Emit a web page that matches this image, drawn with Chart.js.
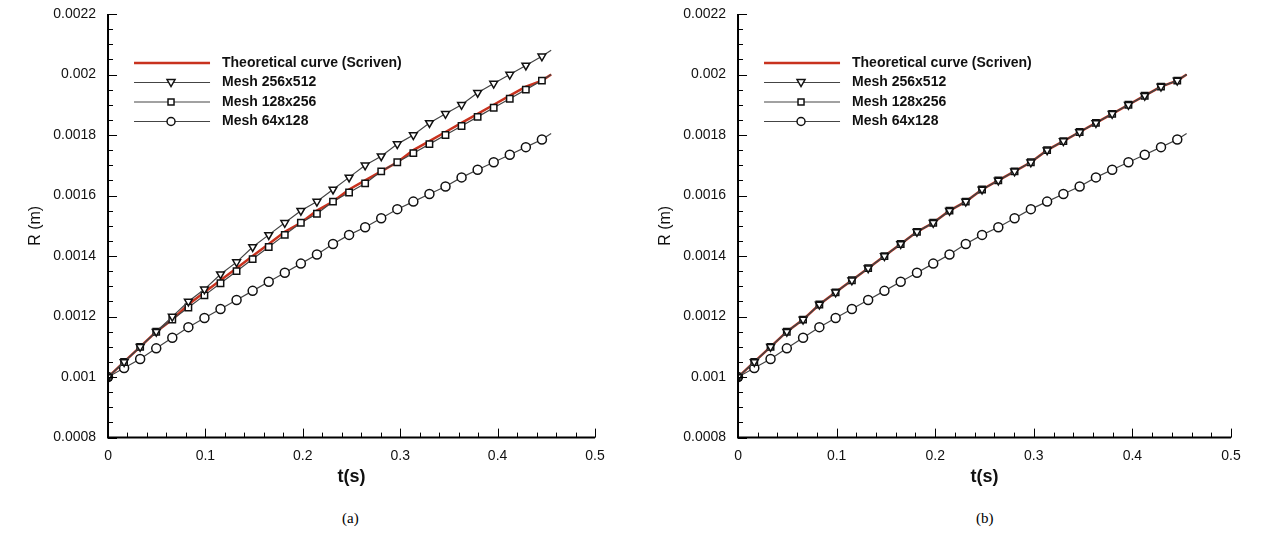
<!DOCTYPE html>
<html><head><meta charset="utf-8">
<script src="https://cdn.jsdelivr.net/npm/chart.js@4.4.0/dist/chart.umd.min.js"></script>
<style>
body{margin:0;background:#fff;width:1270px;height:539px;position:relative;overflow:hidden;font-family:"Liberation Sans",Arial,sans-serif}
.c{position:absolute;top:0}
.cap{position:absolute;top:510px;font-family:"Liberation Serif",serif;font-size:15px}
</style></head><body>
<div class="c" style="left:0;width:620px;height:488px"><canvas id="ca"></canvas></div>
<div class="c" style="left:630px;width:630px;height:488px"><canvas id="cb"></canvas></div>
<div class="cap" style="left:342px">(a)</div>
<div class="cap" style="left:976px">(b)</div>
<script>
// marker times (s)
const tMarks = [0, 0.0165, 0.033, 0.0495, 0.066, 0.0825, 0.099, 0.1155, 0.132, 0.1485, 0.165, 0.1815, 0.198, 0.2145,
  0.231, 0.2475, 0.264, 0.2805, 0.297, 0.3135, 0.33, 0.3465, 0.363, 0.3795, 0.396, 0.4125, 0.429, 0.4455];
const tEnd = 0.455;
// Scriven theoretical R(t) (m)
const theory = [0.001, 0.00105, 0.0011, 0.00115, 0.00119, 0.00124, 0.00128, 0.00132, 0.00136, 0.0014, 0.00144, 0.00148,
  0.00151, 0.00155, 0.00158, 0.00162, 0.00165, 0.00168, 0.00171, 0.00175, 0.00178, 0.00181, 0.00184, 0.00187, 0.0019,
  0.00193, 0.00196, 0.00198];
const theoryEnd = 0.002;
// (a)
const a256 = [0.001, 0.00105, 0.0011, 0.00115, 0.0012, 0.00125, 0.00129, 0.00134, 0.00138, 0.00143, 0.00147, 0.00151,
  0.00155, 0.00158, 0.00162, 0.00166, 0.0017, 0.00173, 0.00177, 0.0018, 0.00184, 0.00187, 0.0019, 0.00194, 0.00197,
  0.002, 0.00203, 0.00206];
const a256End = 0.00208;
const a128 = [0.001, 0.00105, 0.0011, 0.00115, 0.00119, 0.00123, 0.00127, 0.00131, 0.00135, 0.00139, 0.00143, 0.00147,
  0.00151, 0.00154, 0.00158, 0.00161, 0.00164, 0.00168, 0.00171, 0.00174, 0.00177, 0.0018, 0.00183, 0.00186, 0.00189,
  0.00192, 0.00195, 0.00198];
const a128End = 0.002;
const m64 = [0.001, 0.00103, 0.00106, 0.001095, 0.00113, 0.001165, 0.001195, 0.001225, 0.001255, 0.001285, 0.001315,
  0.001345, 0.001375, 0.001405, 0.00144, 0.00147, 0.001495, 0.001525, 0.001555, 0.00158, 0.001605, 0.00163, 0.00166,
  0.001685, 0.00171, 0.001735, 0.00176, 0.001785];
const m64End = 0.001805;
// (b)
const b256 = theory, b128 = theory;
const xTicks = [0, 0.1, 0.2, 0.3, 0.4, 0.5];
const yTicks = [0.0008, 0.001, 0.0012, 0.0014, 0.0016, 0.0018, 0.002, 0.0022];
const legendLabels = ['Theoretical curve (Scriven)', 'Mesh 256x512', 'Mesh 128x256', 'Mesh 64x128'];

const pts = (ys, end) => tMarks.map((t, i) => ({x: t, y: ys[i]})).concat([{x: tEnd, y: end}]);
const GREY = '#444', RED = '#c8321e';

function meshSet(label, ys, end, style, rot) {
  return {label, data: pts(ys, end), borderColor: GREY, borderWidth: 1.2, backgroundColor: '#fff',
    pointStyle: style, rotation: rot || 0,
    pointRadius: ctx => ctx.dataIndex === tMarks.length ? 0 : 4.5,
    pointBorderColor: '#111', pointBorderWidth: 1.5};
}

const decor = {
  id: 'decor',
  afterDraw(c) {
    const g = c.ctx, x = c.scales.x, y = c.scales.y, a = c.chartArea;
    g.save();
    g.strokeStyle = '#000'; g.lineWidth = 2;
    g.beginPath(); g.moveTo(a.left, a.top); g.lineTo(a.left, a.bottom); g.lineTo(a.right, a.bottom); g.stroke();
    g.lineWidth = 1;
    for (let v = 0; v <= 0.5001; v += 0.02) {
      const px = Math.round(x.getPixelForValue(v)) + 0.5, major = Math.abs(v * 10 - Math.round(v * 10)) < 1e-6;
      g.beginPath(); g.moveTo(px, a.bottom); g.lineTo(px, a.bottom - (major ? 9 : 5)); g.stroke();
    }
    for (let k = 0; k <= 28; k++) {
      const v = 0.0008 + k * 0.00005, py = Math.round(y.getPixelForValue(v)) + 0.5;
      g.beginPath(); g.moveTo(a.left, py); g.lineTo(a.left + (k % 4 === 0 ? 9 : 5), py); g.stroke();
    }
    // legend
    const lx = a.left + 26, ly = a.top + 49, dy = 19.5;
    g.font = 'bold 14px "Liberation Sans", Arial, sans-serif'; g.fillStyle = '#111'; g.textBaseline = 'middle';
    c.data.datasets.forEach((d, i) => {
      const yy = ly + i * dy;
      g.strokeStyle = i === 0 ? RED : GREY; g.lineWidth = i === 0 ? 2.5 : 1.2;
      g.beginPath(); g.moveTo(lx, yy); g.lineTo(lx + 76, yy); g.stroke();
      if (i > 0) {
        g.lineWidth = 1.5; g.strokeStyle = '#111'; g.fillStyle = '#fff';
        const cx = lx + 37;
        g.beginPath();
        if (d.pointStyle === 'circle') g.arc(cx, yy, 4, 0, 7);
        else if (d.pointStyle === 'rect') g.rect(cx - 3, yy - 3, 6, 6);
        else { g.moveTo(cx - 4, yy - 3); g.lineTo(cx + 4, yy - 3); g.lineTo(cx, yy + 4); g.closePath(); }
        g.fill(); g.stroke(); g.fillStyle = '#111';
      }
      g.fillText(legendLabels[i], lx + 88, yy);
    });
    g.restore();
  }
};

function make(id, s256, e256, s128, e128, padR) {
  new Chart(document.getElementById(id), {
    type: 'line',
    data: {datasets: [
      {label: legendLabels[0], data: pts(theory, theoryEnd), borderColor: RED, borderWidth: 2.5, pointRadius: 0, order: 5},
      meshSet(legendLabels[1], s256, e256, 'triangle', 180),
      meshSet(legendLabels[2], s128, e128, 'rect'),
      meshSet(legendLabels[3], m64, m64End, 'circle')
    ]},
    options: {
      responsive: true, maintainAspectRatio: false, animation: false,
      layout: {padding: {top: 14, right: padR, left: 22}},
      plugins: {legend: {display: false}, tooltip: {enabled: false}},
      scales: {
        x: {type: 'linear', min: 0, max: 0.5, grid: {display: false}, border: {display: false},
          afterBuildTicks: s => { s.ticks = xTicks.map(v => ({value: v})); },
          ticks: {color: '#111', font: {size: 14}, padding: 2, callback: v => String(v)},
          title: {display: true, text: 't(s)', color: '#111', font: {size: 18, weight: 'bold'}, padding: 0}},
        y: {min: 0.0008, max: 0.0022, grid: {display: false}, border: {display: false},
          afterBuildTicks: s => { s.ticks = yTicks.map(v => ({value: v})); },
          ticks: {color: '#111', font: {size: 14}, padding: 4, callback: v => String(Number(v.toFixed(4)))},
          title: {display: true, text: 'R (m)', color: '#111', font: {size: 16}, padding: 4}}
      }
    },
    plugins: [decor]
  });
}
make('ca', a256, a256End, a128, a128End, 25);
make('cb', b256, theoryEnd, b128, theoryEnd, 29);
</script></body></html>
